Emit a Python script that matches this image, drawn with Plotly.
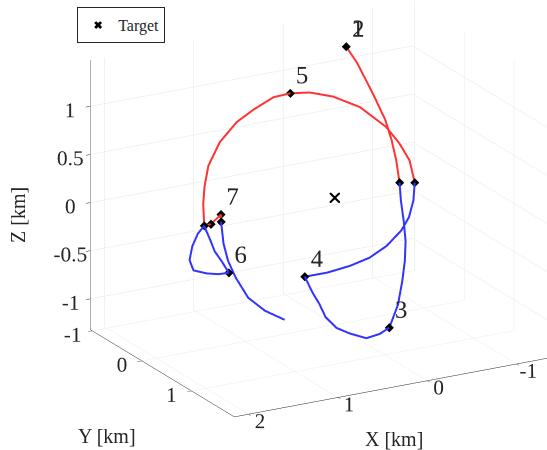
import plotly.graph_objects as go

# ---- trajectory segments (km) ----
seg1_x = [-0.60, -0.67, -0.72, -0.77, -0.81, -0.82, -0.81, -0.78]
seg1_y = [-0.85, -0.76, -0.67, -0.56, -0.44, -0.33, -0.22, -0.10]
seg1_z = [1.20, 1.05, 0.89, 0.71, 0.53, 0.35, 0.18, -0.01]

seg2_x = [-0.78, -0.74, -0.71, -0.67, -0.60, -0.51, -0.39, -0.30, -0.22]
seg2_y = [-0.10, 0.00, 0.11, 0.22, 0.33, 0.44, 0.57, 0.64, 0.70]
seg2_z = [-0.01, -0.16, -0.33, -0.50, -0.66, -0.82, -1.00, -1.09, -1.17]

seg3_x = [-0.22, -0.09, 0.07, 0.24, 0.37, 0.46, 0.49, 0.53, 0.57]
seg3_y = [0.70, 0.74, 0.76, 0.73, 0.70, 0.64, 0.57, 0.51, 0.42]
seg3_z = [-1.17, -1.20, -1.21, -1.14, -1.07, -0.96, -0.84, -0.74, -0.59]

seg4_x = [0.57, 0.31, 0.03, -0.21, -0.44, -0.65, -0.78, -0.88, -0.95]
seg4_y = [0.42, 0.40, 0.36, 0.32, 0.25, 0.17, 0.09, 0.00, -0.10]
seg4_z = [-0.59, -0.60, -0.59, -0.56, -0.50, -0.40, -0.31, -0.18, -0.04]

seg5_x = [-0.95, -0.96, -0.90, -0.80, -0.57, -0.30, -0.05, 0.17]
seg5_y = [-0.10, -0.22, -0.32, -0.41, -0.52, -0.57, -0.59, -0.59]
seg5_z = [-0.04, 0.15, 0.31, 0.47, 0.68, 0.82, 0.90, 0.93]

seg6_x = [0.17, 0.37, 0.63, 0.86, 1.11, 1.31, 1.42, 1.49, 1.54]
seg6_y = [-0.59, -0.57, -0.50, -0.43, -0.32, -0.19, -0.07, 0.03, 0.14]
seg6_z = [0.93, 0.93, 0.87, 0.80, 0.67, 0.50, 0.34, 0.20, 0.02]

seg7_x = [1.54, 1.64, 1.74, 1.81, 1.80, 1.66, 1.53, 1.41]
seg7_y = [0.14, 0.19, 0.26, 0.33, 0.39, 0.41, 0.41, 0.40]
seg7_z = [0.02, -0.03, -0.12, -0.23, -0.32, -0.37, -0.40, -0.41]

seg8_x = [1.41, 1.45, 1.50, 1.52, 1.54, 1.54]
seg8_y = [0.40, 0.34, 0.28, 0.22, 0.17, 0.14]
seg8_z = [-0.41, -0.31, -0.21, -0.10, -0.01, 0.02]

seg9_x = [1.54, 1.46, 1.32, 1.34]
seg9_y = [0.14, 0.13, 0.08, 0.12]
seg9_z = [0.02, 0.02, 0.08, 0.02]

seg10_x = [1.34, 1.38, 1.38, 1.35, 1.27, 1.12, 0.93]
seg10_y = [0.12, 0.24, 0.33, 0.43, 0.54, 0.61, 0.66]
seg10_z = [0.02, -0.16, -0.31, -0.46, -0.65, -0.79, -0.90]

seg_colors = ["red", "blue", "blue", "blue", "red", "red", "blue", "blue", "red", "blue"]

# ---- waypoints ----
wp_x = [-0.60, -0.78, -0.22, 0.57, -0.95, 0.17, 1.54, 1.41, 1.46, 1.32, 1.34]
wp_y = [-0.85, -0.10, 0.70, 0.42, -0.10, -0.59, 0.14, 0.40, 0.13, 0.08, 0.12]
wp_z = [1.20, -0.01, -1.17, -0.59, -0.04, 0.93, 0.02, -0.41, 0.02, 0.08, 0.02]

label_text = ["1", "2", "3", "4", "5", "6", "7"]
label_x = [-0.60, -0.60, -0.22, 0.57, 0.17, 1.41, 1.32]
label_y = [-0.85, -0.85, 0.70, 0.42, -0.59, 0.40, 0.08]
label_z = [1.20, 1.20, -1.17, -0.59, 0.93, -0.41, 0.08]

target_x = [0.0]
target_y = [0.0]
target_z = [0.0]

x_range = [-1.45, 2.16]
y_range = [-1.04, 1.86]
z_range = [-1.32, 1.48]
x_ticks = [-1, 0, 1, 2]
y_ticks = [-1, 0, 1]
z_ticks = [-1, -0.5, 0, 0.5, 1]
axis_titles = ["X [km]", "Y [km]", "Z [km]"]

COLORS = {"red": "rgb(255,51,51)", "blue": "rgb(51,51,255)"}
FONT = "Liberation Serif"
INK = "#262626"

# label offset (up and to the right of the point, in km)
LABEL_OFF = (-0.10, 0.06, 0.19)

segs = [
    (seg1_x, seg1_y, seg1_z), (seg2_x, seg2_y, seg2_z), (seg3_x, seg3_y, seg3_z),
    (seg4_x, seg4_y, seg4_z), (seg5_x, seg5_y, seg5_z), (seg6_x, seg6_y, seg6_z),
    (seg7_x, seg7_y, seg7_z), (seg8_x, seg8_y, seg8_z), (seg9_x, seg9_y, seg9_z),
    (seg10_x, seg10_y, seg10_z),
]

fig = go.Figure()
for (sx, sy, sz), c in zip(segs, seg_colors):
    fig.add_trace(go.Scatter3d(x=sx, y=sy, z=sz, mode="lines",
                               line=dict(color=COLORS[c], width=4),
                               showlegend=False, hoverinfo="skip"))

fig.add_trace(go.Scatter3d(x=wp_x, y=wp_y, z=wp_z, mode="markers",
                           marker=dict(symbol="diamond", size=3, color="black"),
                           showlegend=False, hoverinfo="skip"))

fig.add_trace(go.Scatter3d(x=[v + LABEL_OFF[0] for v in label_x],
                           y=[v + LABEL_OFF[1] for v in label_y],
                           z=[v + LABEL_OFF[2] for v in label_z],
                           mode="text", text=label_text, textposition="middle center",
                           textfont=dict(family=FONT, size=25, color=INK),
                           showlegend=False, hoverinfo="skip"))

fig.add_trace(go.Scatter3d(x=target_x, y=target_y, z=target_z, mode="markers",
                           marker=dict(symbol="x", size=2.4, color="black"),
                           name="Target", legendgroup="target", showlegend=False))
# legend entry for the target (same symbol, legend-sized)
fig.add_trace(go.Scatter(x=[None], y=[None], mode="markers",
                         marker=dict(symbol="x", size=7, color="black"),
                         name="Target", legendgroup="target", showlegend=True,
                         hoverinfo="skip"))


def axis(rng, ticks):
    return dict(
        title=dict(text=""),
        range=rng, tickvals=ticks, ticktext=[f"{t:g}" for t in ticks],
        tickangle=0,
        showbackground=False, gridcolor="#e6e6e6", gridwidth=1,
        showline=True, linecolor=INK, linewidth=1,
        zeroline=False, showspikes=False,
        ticks="outside", ticklen=5, tickcolor=INK,
        tickfont=dict(family=FONT, size=16, color=INK),
    )


span = [x_range[1] - x_range[0], y_range[1] - y_range[0], z_range[1] - z_range[0]]
zoom = 1.64                       # orthographic zoom is carried by the aspect ratio
norm = zoom / span[0]             # km -> scene units
view_dir = (0.458, 0.823, 0.337)
look_at_km = (0.454, -0.190, -0.154)   # offset of the look-at point from the box centre
cam_center = tuple(v * norm for v in look_at_km)

title_font = dict(family=FONT, size=20, color=INK)
annotations = [
    dict(text=axis_titles[0], x=394 / 547, y=1 - 439 / 450, xref="paper", yref="paper",
         showarrow=False, font=title_font, xanchor="center", yanchor="middle"),
    dict(text=axis_titles[1], x=107 / 547, y=1 - 436 / 450, xref="paper", yref="paper",
         showarrow=False, font=title_font, xanchor="center", yanchor="middle"),
    dict(text=axis_titles[2], x=18 / 547, y=1 - 215 / 450, xref="paper", yref="paper",
         showarrow=False, font=title_font, xanchor="center", yanchor="middle",
         textangle=-90),
]

fig.update_layout(
    width=547, height=450,
    margin=dict(l=0, r=0, t=0, b=0),
    paper_bgcolor="white", plot_bgcolor="rgba(0,0,0,0)",
    xaxis=dict(visible=False), yaxis=dict(visible=False),
    scene=dict(
        domain=dict(x=[0, 1], y=[0, 1]),
        xaxis=axis(x_range, x_ticks),
        yaxis=axis(y_range, y_ticks),
        zaxis=axis(z_range, z_ticks),
        aspectmode="manual",
        aspectratio=dict(x=span[0] * norm, y=span[1] * norm, z=span[2] * norm),
        camera=dict(
            eye=dict(x=cam_center[0] + view_dir[0] * 2,
                     y=cam_center[1] + view_dir[1] * 2,
                     z=cam_center[2] + view_dir[2] * 2),
            up=dict(x=0, y=0, z=1),
            center=dict(x=cam_center[0], y=cam_center[1], z=cam_center[2]),
            projection=dict(type="orthographic"),
        ),
    ),
    annotations=annotations,
    legend=dict(x=0.141, y=0.984, xanchor="left", yanchor="top",
                bordercolor=INK, borderwidth=1, bgcolor="white",
                font=dict(family=FONT, size=16, color=INK), itemwidth=30,
                tracegroupgap=0),
    showlegend=True,
)

fig.write_html("out.html")
